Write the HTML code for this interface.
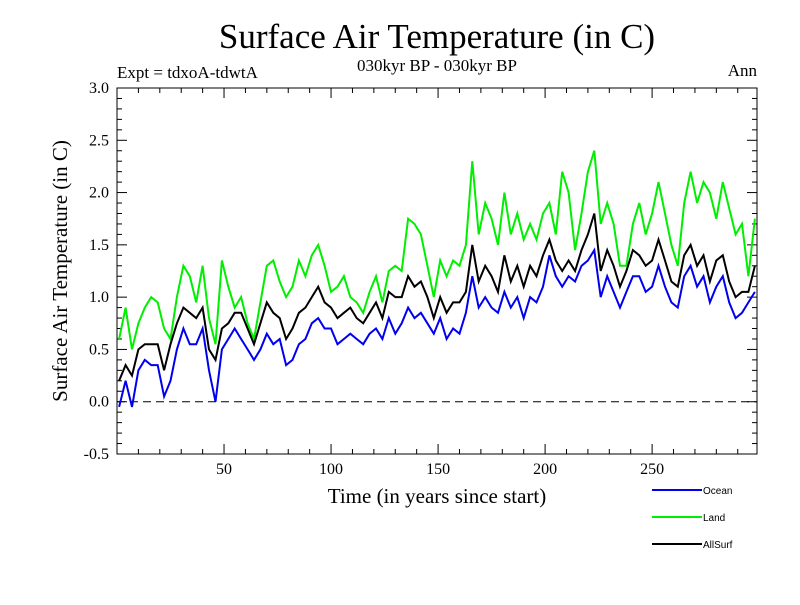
<!DOCTYPE html>
<html><head><meta charset="utf-8"><style>body{margin:0;background:#fff}svg text{font-family:"Liberation Serif",serif}</style></head>
<body>
<svg id="chart" width="800" height="600" xmlns="http://www.w3.org/2000/svg">
<text x="437" y="48" font-size="35" text-anchor="middle">Surface Air Temperature (in C)</text>
<text x="437" y="71" font-size="17" text-anchor="middle">030kyr BP - 030kyr BP</text>
<text x="117" y="78" font-size="17">Expt = tdxoA-tdwtA</text>
<text x="757" y="76" font-size="17" text-anchor="end">Ann</text>
<text x="437" y="503" font-size="21" text-anchor="middle">Time (in years since start)</text>
<text transform="translate(67,271) rotate(-90)" font-size="21" text-anchor="middle">Surface Air Temperature (in C)</text>
<g id="axes"></g>
<g id="series"></g>
<g id="legend"></g>
</svg>
<script>
const years=[1,4,7,10,13,16,19,22,25,28,31,34,37,40,43,46,49,52,55,58,61,64,67,70,73,76,79,82,85,88,91,94,97,100,103,106,109,112,115,118,121,124,127,130,133,136,139,142,145,148,151,154,157,160,163,166,169,172,175,178,181,184,187,190,193,196,199,202,205,208,211,214,217,220,223,226,229,232,235,238,241,244,247,250,253,256,259,262,265,268,271,274,277,280,283,286,289,292,295,298];
const land=[0.6,0.9,0.5,0.75,0.9,1.0,0.95,0.7,0.6,1.0,1.3,1.2,0.95,1.3,0.8,0.55,1.35,1.1,0.9,1.0,0.75,0.6,0.95,1.3,1.35,1.15,1.0,1.1,1.35,1.2,1.4,1.5,1.3,1.05,1.1,1.2,1.0,0.95,0.85,1.05,1.2,0.95,1.25,1.3,1.25,1.75,1.7,1.6,1.3,1.0,1.35,1.2,1.35,1.3,1.5,2.3,1.6,1.9,1.75,1.5,2.0,1.6,1.8,1.55,1.7,1.55,1.8,1.9,1.6,2.2,2.0,1.45,1.8,2.2,2.4,1.7,1.9,1.7,1.3,1.3,1.7,1.9,1.6,1.8,2.1,1.8,1.5,1.3,1.9,2.2,1.9,2.1,2.0,1.75,2.1,1.85,1.6,1.7,1.2,1.75];
const ocean=[-0.05,0.2,-0.05,0.3,0.4,0.35,0.35,0.05,0.2,0.5,0.7,0.55,0.55,0.7,0.3,0.0,0.5,0.6,0.7,0.6,0.5,0.4,0.5,0.65,0.55,0.6,0.35,0.4,0.55,0.6,0.75,0.8,0.7,0.7,0.55,0.6,0.65,0.6,0.55,0.65,0.7,0.6,0.8,0.65,0.75,0.9,0.8,0.85,0.75,0.65,0.8,0.6,0.7,0.65,0.85,1.2,0.9,1.0,0.9,0.85,1.05,0.9,1.0,0.8,1.0,0.95,1.1,1.4,1.2,1.1,1.2,1.15,1.3,1.35,1.45,1.0,1.2,1.05,0.9,1.05,1.2,1.2,1.05,1.1,1.3,1.1,0.95,0.9,1.2,1.3,1.1,1.2,0.95,1.1,1.2,0.95,0.8,0.85,0.95,1.05];
const allsurf=[0.2,0.35,0.25,0.5,0.55,0.55,0.55,0.3,0.55,0.75,0.9,0.85,0.8,0.9,0.5,0.4,0.7,0.75,0.85,0.85,0.7,0.55,0.75,0.95,0.85,0.8,0.6,0.7,0.85,0.9,1.0,1.1,0.95,0.9,0.8,0.85,0.9,0.8,0.75,0.85,0.95,0.8,1.05,1.0,1.0,1.2,1.1,1.15,1.0,0.8,1.0,0.85,0.95,0.95,1.05,1.5,1.15,1.3,1.2,1.05,1.4,1.15,1.3,1.1,1.3,1.2,1.4,1.55,1.35,1.25,1.35,1.25,1.45,1.6,1.8,1.25,1.45,1.3,1.1,1.25,1.45,1.4,1.3,1.35,1.55,1.35,1.15,1.1,1.4,1.5,1.3,1.4,1.15,1.35,1.4,1.15,1.0,1.05,1.05,1.3];
const yTicks=[-0.5,0.0,0.5,1.0,1.5,2.0,2.5,3.0];
const xTicks=[50,100,150,200,250];
const NS="http://www.w3.org/2000/svg";
const X0=117,X1=757,Y0=88,Y1=454;
const xs=v=>X0+v*(X1-X0)/299;
const ys=v=>Y1-(v+0.5)*(Y1-Y0)/3.5;
function mk(t,a,p){const e=document.createElementNS(NS,t);for(const k in a)e.setAttribute(k,a[k]);p.appendChild(e);return e;}
const ax=document.getElementById('axes');
const frame=mk('rect',{x:X0,y:Y0,width:X1-X0,height:Y1-Y0,fill:'none',stroke:'#000','stroke-width':1},ax);


for(let v=-0.5;v<=3.001;v+=0.1){const y=ys(v);const maj=Math.abs(v*2-Math.round(v*2))<1e-6;const L=maj?10:5;
mk('line',{x1:X0,x2:X0+L,y1:y,y2:y,stroke:'#000'},ax);mk('line',{x1:X1-L,x2:X1,y1:y,y2:y,stroke:'#000'},ax);}
yTicks.forEach(v=>{const t=mk('text',{x:X0-8,y:ys(v)+5,'font-size':16,'text-anchor':'end'},ax);t.textContent=v.toFixed(1);

});
for(let v=10;v<300;v+=10){const x=xs(v);const L=v%50==0?10:5;mk('line',{x1:x,x2:x,y1:Y1,y2:Y1-L,stroke:'#000'},ax);mk('line',{x1:x,x2:x,y1:Y0,y2:Y0+L,stroke:'#000'},ax);}
xTicks.forEach(v=>{const t=mk('text',{x:xs(v),y:Y1+20,'font-size':16,'text-anchor':'middle'},ax);t.textContent=v;

});
const zl=mk('line',{x1:X0,x2:X1,y1:ys(0),y2:ys(0),stroke:'#000','stroke-dasharray':'8,5'},ax);


const sg=document.getElementById('series');
function line(arr,col,name){const d=arr.map((v,i)=>(i?'L':'M')+xs(years[i]).toFixed(1)+','+ys(v).toFixed(1)).join('');
const p=mk('path',{d:d,fill:'none',stroke:col,'stroke-width':2},sg);

}
line(land,'#00ee00','land-line');
line(allsurf,'#000000','allsurf-line');
line(ocean,'#0000ee','ocean-line');
const lg=document.getElementById('legend');
[['Ocean','#0000ee',490],['Land','#00ee00',517],['AllSurf','#000000',544]].forEach(([n,c,y])=>{
const g=mk('g',{},lg);


mk('line',{x1:652,x2:702,y1:y,y2:y,stroke:c,'stroke-width':2},g);
const t=mk('text',{x:703,y:y+4,'font-size':10,style:'font-family:"Liberation Sans",sans-serif'},g);t.textContent=n;});
</script>
</body></html>
